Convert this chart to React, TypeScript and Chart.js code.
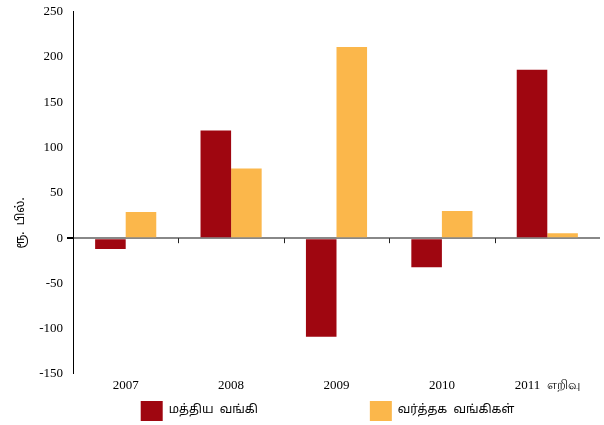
import React, { useEffect, useRef } from "react";
import { Chart, registerables } from "chart.js";

Chart.register(...registerables);

const categories = ["2007", "2008", "2009", "2010", "2011  எறிவு"];
const centralBank = [-12, 119, -109, -32, 186];
const commercialBanks = [29, 77, 211, 30, 5.5];
const seriesNames = ["மத்திய  வங்கி", "வர்த்தக  வங்கிகள்"];
const yTitle = "ரூ.  பில்.";

const RED = "#9F0610";
const YELLOW = "#FBB74B";
const SERIF = "'Liberation Serif', 'Times New Roman', serif";
const TAMIL = "'Noto Sans Tamil', 'Noto Sans', 'Lohit Tamil', sans-serif";
const EM = "\u2003";

const zeroTicks = {
  id: "zeroTicks",
  afterDatasetsDraw(chart: any) {
    const x = chart.scales.x;
    const y = chart.scales.y;
    const ctx = chart.ctx;
    const y0 = y.getPixelForValue(0);
    ctx.save();
    ctx.strokeStyle = "#222";
    ctx.lineWidth = 1;
    for (let i = 1; i < categories.length; i++) {
      const px = Math.round((x.getPixelForTick(i - 1) + x.getPixelForTick(i)) / 2) + 0.5;
      ctx.beginPath();
      ctx.moveTo(px, y0);
      ctx.lineTo(px, y0 + 5);
      ctx.stroke();
    }
    ctx.restore();
  },
};

export default function App() {
  const ref = useRef<HTMLCanvasElement | null>(null);
  useEffect(() => {
    const chart = new Chart(ref.current as HTMLCanvasElement, {
      type: "bar",
      data: {
        labels: categories,
        datasets: [
          { label: seriesNames[0] + EM.repeat(9), data: centralBank, backgroundColor: RED, categoryPercentage: 0.58, barPercentage: 1 },
          { label: seriesNames[1] + EM + "\u2002", data: commercialBanks, backgroundColor: YELLOW, categoryPercentage: 0.58, barPercentage: 1 },
        ],
      },
      options: {
        animation: false,
        responsive: false,
        maintainAspectRatio: false,
        layout: { padding: { top: 7, right: 4, left: 8, bottom: -6 } },
        plugins: {
          tooltip: { enabled: false },
          legend: {
            position: "bottom",
            fullSize: false,
            labels: {
              boxWidth: 22,
              boxHeight: 20,
              padding: 4,
              color: "#000",
              font: { family: TAMIL, size: 12 },
            },
          },
        },
        scales: {
          x: {
            grid: { display: false, drawTicks: false },
            border: { display: false },
            ticks: { color: "#000", font: { family: SERIF, size: 13 }, padding: 4 },
            afterFit(s: any) { s.height = 23; },
          },
          y: {
            min: -150,
            max: 250,
            ticks: { stepSize: 50, color: "#000", font: { family: SERIF, size: 13 }, padding: 4 },
            border: { display: true, color: "#000", width: 1 },
            grid: {
              color: (c: any) => (c.tick && c.tick.value === 0 ? "#888" : "rgba(0,0,0,0)"),
              lineWidth: (c: any) => (c.tick && c.tick.value === 0 ? 2 : 0),
              tickColor: "#000",
              tickLength: 6,
              drawTicks: true,
            },
            title: { display: true, text: yTitle + EM.repeat(5), color: "#000", font: { family: TAMIL, size: 12 }, padding: 6 },
            afterFit(s: any) { s.width = 65; },
          },
        },
      },
      plugins: [zeroTicks],
    });
    return () => chart.destroy();
  }, []);
  return (
    <div style={{ position: "fixed", left: 0, top: 0, width: 604, height: 425, background: "#fff" }}>
      <canvas ref={ref} width={604} height={425} style={{ width: 604, height: 425 }} />
    </div>
  );
}
